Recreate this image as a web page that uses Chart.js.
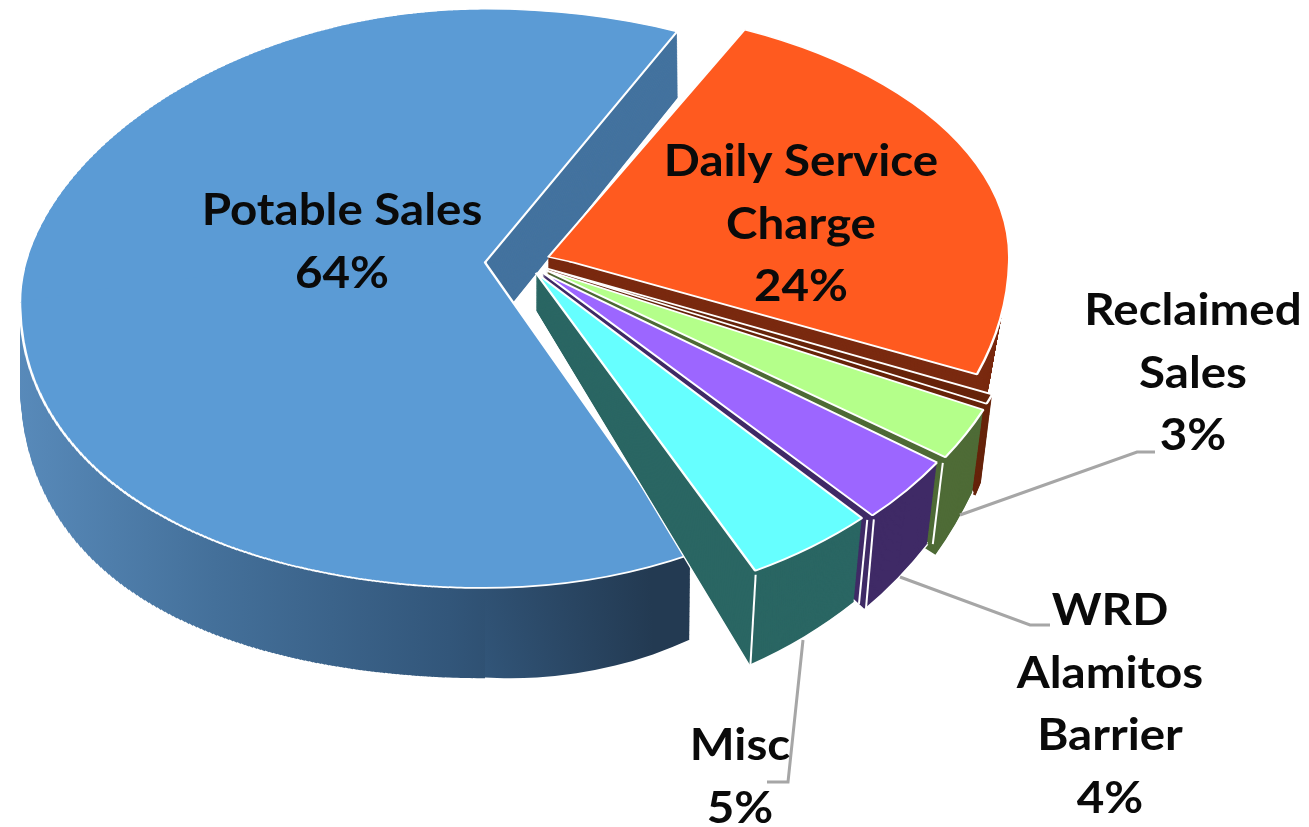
<!DOCTYPE html>
<html>
<head>
<meta charset="utf-8">
<title>Revenue pie</title>
<script src="https://cdn.jsdelivr.net/npm/chart.js@4"></script>
<style>
  html, body { margin: 0; padding: 0; background: #fff; }
  canvas { display: block; }
</style>
</head>
<body>
<canvas id="revenuePie" width="1309" height="827"></canvas>
<script>
const sliceNames = ["Potable Sales", "Daily Service Charge", "Other", "Reclaimed Sales", "WRD Alamitos Barrier", "Misc"];
const sliceValues = [64.49, 24, 0.7, 2.8, 3.5, 4.5];
const topColors = ["#5B9BD5", "#FF5A1F", "#66230A", "#B4FF8A", "#9C66FF", "#66FFFF"];
const wallColors = ["#44739F", "#7A2A10", "#66230A", "#4E6B36", "#3F2A66", "#2A6663"];
const explode = [160, 100, 88, 100, 92, 76];
const radiusBoost = [-5, 31, 31, 29, 31, 35];

// text blocks drawn by the plugin: lines, centre x, first baseline
const labelLines = [
  { lines: ["Potable Sales", "64%"], x: 342, y: 225 },
  { lines: ["Daily Service", "Charge", "24%"], x: 801, y: 176 },
  { lines: ["Reclaimed", "Sales", "3%"], x: 1193, y: 325 },
  { lines: ["WRD", "Alamitos", "Barrier", "4%"], x: 1110, y: 625 },
  { lines: ["Misc", "5%"], x: 740, y: 760 },
];
const leaders = [
  [[960, 515], [1137, 452], [1155, 452]],
  [[900, 577], [1030, 625], [1050, 625]],
  [[803, 640], [788, 782], [767, 782]],
];

// fake 3D: the flat pie gets squashed, harder above the centre line than below it
const squashTop = 0.545;
const squashBottom = 0.7;
const apexDepth = [43, 35, 35, 35, 35, 35];
const slopeTop = 0.1;
const slopeBottom = [0.145, 0.55, 0.4, 0.32, 0.23, 0.19];
const shrinkX = [0.13, 0.025, 0.025, 0.025, 0.025, 0.025];
const outlined = [true, false, false, true, true, true];
const leftDrop = 40;
const stripWidth = 4;
const wallSteps = 90;

function tip(arc, i) {
  const mid = (arc.startAngle + arc.endAngle) / 2;
  const o = explode[i] / 4;
  return { x: arc.x + Math.cos(mid) * o, y: arc.y + Math.sin(mid) * o, o };
}

function pivotX(arc, i) {
  if (i !== 0) return tip(arc, i).x;
  // the blue wall leans on its far corner
  const t = tip(arc, 0);
  return t.x + Math.cos(arc.endAngle) * (arc.outerRadius + radiusBoost[0] + t.o);
}

let xLean = 1;
function withTilt(ctx, chart, arc, i, t, draw) {
  const cy = arc.y;
  const seam = Math.round(cy + apexDepth[i] * t);
  const px = pivotX(arc, i);
  const half = (clipY, clipH, k, name) => {
    ctx.save();
    ctx.beginPath();
    ctx.rect(-200, clipY, chart.width + 400, clipH);
    ctx.clip();
    ctx.translate(px, cy + apexDepth[i] * t);
    ctx.scale(1 - shrinkX[i] * t * (i === 0 ? xLean : 1), k);
    ctx.translate(-px, -cy);
    draw(name);
    ctx.restore();
  };
  // upper half runs one pixel under the lower one so no hairline shows at the join
  half(-2000, seam + 2001, squashTop * (1 - slopeTop * t), "top");
  half(seam, 3000, squashBottom * (1 + slopeBottom[i] * t), "bottom");
}

// blue slice: left of its tip the rim sinks gradually, cut in thin columns
function withBlueWarp(ctx, chart, arc, t, draw) {
  const ax = Math.floor(tip(arc, 0).x);
  const reach = arc.outerRadius + radiusBoost[0] + tip(arc, 0).o;
  xLean = 0;
  for (let x = ax - stripWidth; x > -stripWidth; x -= stripWidth) {
    const u = (ax - x - stripWidth / 2) / reach;
    ctx.save();
    ctx.beginPath();
    ctx.rect(x, 0, stripWidth, chart.height);
    ctx.clip();
    ctx.translate(0, leftDrop * (1 + 0.9 * t) * u * u);
    withTilt(ctx, chart, arc, 0, t, draw);
    ctx.restore();
  }
  ctx.save();
  ctx.beginPath();
  ctx.rect(ax, 0, chart.width - ax, chart.height);
  ctx.clip();
  xLean = 1;
  withTilt(ctx, chart, arc, 0, t, draw);
  ctx.restore();
}

function layer(ctx, chart, arc, i, t, draw) {
  if (i === 0) withBlueWarp(ctx, chart, arc, t, draw);
  else withTilt(ctx, chart, arc, i, t, draw);
}

function mapPoint(px, py, arc, i, t) {
  const rel = py - arc.y;
  const k = rel < 0 ? squashTop * (1 - slopeTop * t) : squashBottom * (1 + slopeBottom[i] * t);
  const pv = pivotX(arc, i);
  return { x: pv + (px - pv) * (1 - shrinkX[i] * t), y: arc.y + apexDepth[i] * t + rel * k };
}

function drawArcAs(arc, i, ctx, fill, border) {
  const ghost = Object.create(arc);
  ghost.options = Object.assign({}, arc.options, { backgroundColor: fill, borderWidth: border });
  ghost.outerRadius = arc.outerRadius + radiusBoost[i];
  arc.draw.call(ghost, ctx);
}

function drawCorners(ctx, arc, i) {
  const t0 = tip(arc, i);
  const r = arc.outerRadius + radiusBoost[i] + t0.o;
  [arc.startAngle, arc.endAngle].forEach((a) => {
    const px = t0.x + Math.cos(a) * r;
    const py = t0.y + Math.sin(a) * r;
    const p0 = mapPoint(px, py, arc, i, 0);
    const p1 = mapPoint(px, py, arc, i, 1);
    ctx.beginPath();
    ctx.moveTo(p0.x, p0.y);
    ctx.lineTo(p1.x, p1.y);
    ctx.strokeStyle = "#fff";
    ctx.lineWidth = 2;
    ctx.stroke();
  });
}

const tiltedPie = {
  id: "tiltedPie",
  beforeDatasetDraw(chart, args) {
    const ctx = chart.ctx;
    const arcs = chart.getDatasetMeta(args.index).data;

    const blueWall = ctx.createLinearGradient(20, 0, 690, 0);
    blueWall.addColorStop(0, "#5C8FC0");
    blueWall.addColorStop(0.35, "#44709A");
    blueWall.addColorStop(0.7, "#32567A");
    blueWall.addColorStop(1, "#233A52");

    // each slice wall, back to front
    arcs.forEach((arc, i) => {
      if (outlined[i]) layer(ctx, chart, arc, i, 1, () => drawArcAs(arc, i, ctx, "#fff", 3));
      for (let s = wallSteps; s >= 1; s--) {
        layer(ctx, chart, arc, i, s / wallSteps, (half) => {
          const fill = i === 0 && half === "bottom" ? blueWall : wallColors[i];
          drawArcAs(arc, i, ctx, fill, 0);
        });
      }
      if (outlined[i] && i !== 3) drawCorners(ctx, arc, i);
      if (i === 0) layer(ctx, chart, arc, 0, 0, () => drawArcAs(arc, 0, ctx, topColors[0], 2.5));
    });
    // top faces of the rest go on last
    arcs.forEach((arc, i) => {
      if (i > 0) layer(ctx, chart, arc, i, 0, () => drawArcAs(arc, i, ctx, topColors[i], 2.5));
    });
    return false;
  },
  afterDraw(chart) {
    const ctx = chart.ctx;
    ctx.save();
    ctx.strokeStyle = "#A6A6A6";
    ctx.lineWidth = 3;
    leaders.forEach((pts) => {
      ctx.beginPath();
      pts.forEach((p, i) => (i ? ctx.lineTo(p[0], p[1]) : ctx.moveTo(p[0], p[1])));
      ctx.stroke();
    });
    ctx.fillStyle = "#0A0A0A";
    ctx.font = "bold 44px Lato";
    ctx.textAlign = "center";
    labelLines.forEach((block) => {
      block.lines.forEach((line, i) => {
        ctx.save();
        ctx.translate(block.x, block.y + i * 62.5);
        ctx.scale(1.08, 1);
        ctx.fillText(line, 0, 0);
        ctx.restore();
      });
    });
    ctx.restore();
  },
};

new Chart(document.getElementById("revenuePie"), {
  type: "pie",
  data: {
    labels: sliceNames,
    datasets: [{
      data: sliceValues,
      backgroundColor: topColors,
      borderColor: "#fff",
      borderWidth: 2.5,
      offset: explode,
    }],
  },
  options: {
    responsive: false,
    animation: false,
    rotation: 153,
    radius: 430,
    layout: { padding: { right: 259, bottom: 303 } },
    plugins: {
      legend: { display: false },
      tooltip: { enabled: false },
    },
  },
  plugins: [tiltedPie],
});
</script>
</body>
</html>
